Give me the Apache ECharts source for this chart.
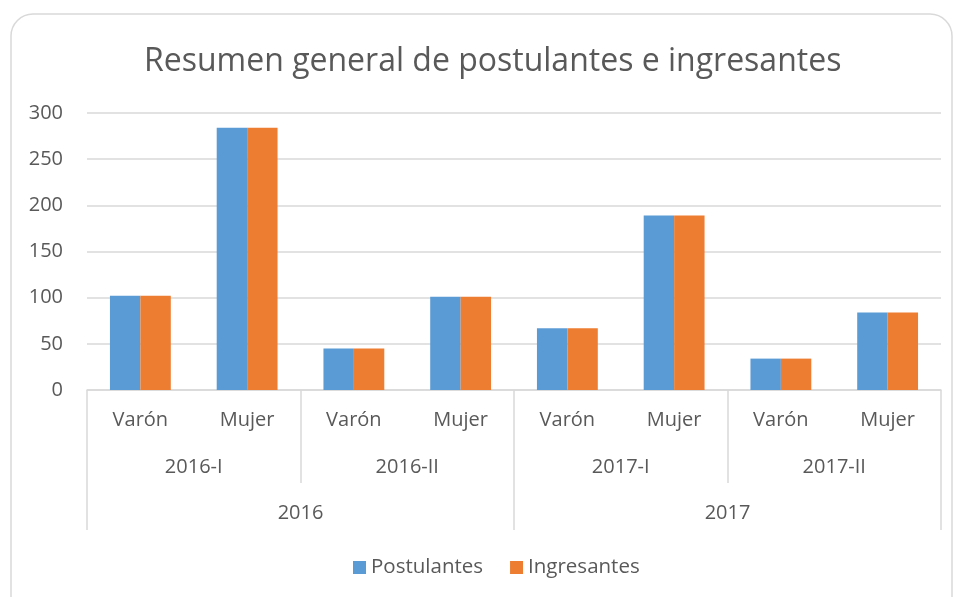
<!DOCTYPE html>
<html>
<head>
<meta charset="utf-8">
<script src="https://cdn.jsdelivr.net/npm/echarts@6/dist/echarts.min.js"></script>
<style>
html,body{margin:0;padding:0;background:#fff;}
#EchartDiv{width:956px;height:597px;}
</style>
</head>
<body>
<div id="EchartDiv"></div>
<script>
// datos
var arrSexo       = ['Varón','Mujer','Varón','Mujer','Varón','Mujer','Varón','Mujer'];
var arrSemestre   = ['2016-I','2016-II','2017-I','2017-II'];
var arrAnio       = ['2016','2017'];
var arrPostulantes = [102, 284, 45, 101, 67, 189, 34, 84];
var arrIngresantes = [102, 284, 45, 101, 67, 189, 34, 84];
var arrSeries     = ['Postulantes','Ingresantes'];

var myChart = echarts.init(document.getElementById('EchartDiv'));
var txtColor = '#595959';
var lineColor = '#d9d9d9';
var fontFam = 'Open Sans';
var gridPos = {left:87, right:15, top:113, bottom:207};

var option = {
	backgroundColor:'#fff',
	textStyle:{fontFamily:fontFam},
	graphic:[{
		type:'rect',
		shape:{x:11, y:14, width:941, height:640, r:22},
		style:{fill:'none', stroke:lineColor, lineWidth:1.5},
		silent:true
	}],
	title:{
		text:'Resumen general de postulantes e ingresantes',
		left:139,
		top:41,
		textStyle:{fontSize:32, fontWeight:'normal', color:txtColor, fontFamily:fontFam}
	},
	legend:{
		data:arrSeries,
		left:348,
		top:552,
		icon:'rect',
		itemWidth:13,
		itemHeight:13,
		itemGap:27,
		textStyle:{fontSize:20.5, color:txtColor, fontFamily:fontFam}
	},
	grid:[
		{left:gridPos.left, right:gridPos.right, top:gridPos.top, bottom:gridPos.bottom},
		{left:gridPos.left, right:gridPos.right, top:gridPos.top, bottom:gridPos.bottom},
		{left:gridPos.left, right:gridPos.right, top:gridPos.top, bottom:gridPos.bottom}
	],
	xAxis:[
		{
			type:'category', gridIndex:0, data:arrSexo,
			axisLine:{show:true, lineStyle:{color:lineColor, width:1.5}},
			axisTick:{show:false},
			axisLabel:{margin:20, fontSize:20, color:txtColor, fontFamily:fontFam}
		},
		{
			type:'category', gridIndex:1, data:arrSemestre,
			axisLine:{show:false},
			axisTick:{show:true, length:93, lineStyle:{color:lineColor, width:1.5}},
			axisLabel:{margin:67, fontSize:20, color:txtColor, fontFamily:fontFam}
		},
		{
			type:'category', gridIndex:2, data:arrAnio,
			axisLine:{show:false},
			axisTick:{show:true, length:140, lineStyle:{color:lineColor, width:1.5}},
			axisLabel:{margin:113, fontSize:20, color:txtColor, fontFamily:fontFam}
		}
	],
	yAxis:[
		{
			type:'value', gridIndex:0, min:0, max:300, interval:50,
			axisLine:{show:false},
			axisTick:{show:false},
			splitLine:{lineStyle:{color:lineColor, width:1.5}},
			axisLabel:{margin:24, fontSize:20, color:txtColor, fontFamily:fontFam}
		},
		{type:'value', gridIndex:1, show:false},
		{type:'value', gridIndex:2, show:false}
	],
	series:[
		{
			name:'Postulantes',
			type:'bar',
			xAxisIndex:0, yAxisIndex:0,
			data:arrPostulantes,
			itemStyle:{color:'#5B9BD5'},
			barGap:'0%',
			barCategoryGap:'43%'
		},
		{
			name:'Ingresantes',
			type:'bar',
			xAxisIndex:0, yAxisIndex:0,
			data:arrIngresantes,
			itemStyle:{color:'#ED7D31'},
			barGap:'0%',
			barCategoryGap:'43%'
		}
	]
};
myChart.setOption(option);
</script>
</body>
</html>
